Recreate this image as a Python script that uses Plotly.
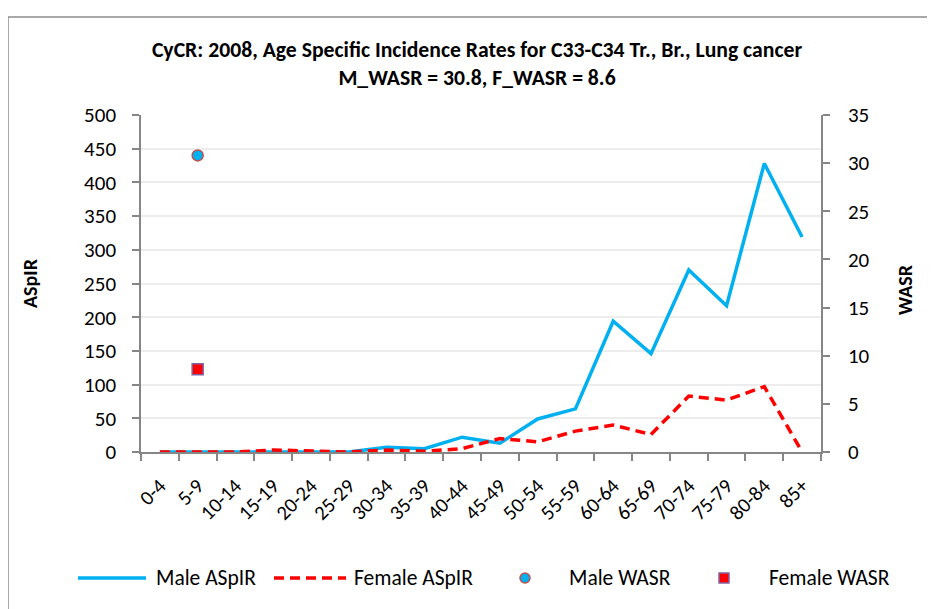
import plotly.graph_objects as go

age_groups = ["0-4", "5-9", "10-14", "15-19", "20-24", "25-29", "30-34", "35-39", "40-44",
              "45-49", "50-54", "55-59", "60-64", "65-69", "70-74", "75-79", "80-84", "85+"]
male_aspir = [0, 0, 0, 1, 0, 0, 7, 5, 22, 13, 49, 64, 194, 146, 270, 217, 428, 319]
female_aspir = [0, 0, 0, 3, 1, 0, 3, 1, 5, 20, 15, 31, 40, 26, 83, 77, 97, 0]
wasr_category = ["5-9"]
male_wasr = [30.8]
female_wasr = [8.6]
series_names = ["Male ASpIR", "Female ASpIR", "Male WASR", "Female WASR"]

W, H = 935, 609
OFF = 8  # page body margin offset in the browser
# plot area in screen pixels: x 141..821, y 115..452
L = 141 - OFF
T = 115 - OFF
R = W - (821 - OFF)
B = H - (452 - OFF)
PW, PH = W - L - R, H - T - B

def px_x(sx):
    return (sx - OFF - L) / PW

def px_y(sy):
    return (H - B - (sy - OFF)) / PH

FONT = "Carlito, Calibri, sans-serif"
MALE_C = "#00B0F0"
FEMALE_C = "#FF0000"
axis_col = "#868686"

fig = go.Figure()
fig.add_trace(go.Scatter(x=age_groups, y=male_aspir, name=series_names[0], mode="lines",
                         line=dict(color=MALE_C, width=3.5)))
fig.add_trace(go.Scatter(x=age_groups, y=female_aspir, name=series_names[1], mode="lines",
                         line=dict(color=FEMALE_C, width=3.5, dash="10px,6px")))
fig.add_trace(go.Scatter(x=wasr_category, y=male_wasr, name=series_names[2], mode="markers", yaxis="y2",
                         marker=dict(symbol="circle", size=11, color=MALE_C,
                                     line=dict(color="#C0504D", width=1.5))))
fig.add_trace(go.Scatter(x=wasr_category, y=female_wasr, name=series_names[3], mode="markers", yaxis="y2",
                         marker=dict(symbol="square", size=11, color=FEMALE_C,
                                     line=dict(color="#8064A2", width=1.5))))

# manual legend (Excel style, long line samples)
leg_y = 578
shapes = [
    dict(type="line", xref="paper", yref="paper", x0=px_x(4), x1=px_x(W + 20), y0=px_y(17), y1=px_y(17),
         line=dict(color="#8C8C8C", width=1.5)),
    dict(type="line", xref="paper", yref="paper", x0=px_x(8), x1=px_x(8), y0=px_y(17), y1=px_y(H + 20),
         line=dict(color="#8C8C8C", width=1.5)),
    dict(type="line", xref="paper", yref="paper", x0=px_x(78), x1=px_x(146), y0=px_y(leg_y), y1=px_y(leg_y),
         line=dict(color=MALE_C, width=3.5)),
    dict(type="line", xref="paper", yref="paper", x0=px_x(274), x1=px_x(346), y0=px_y(leg_y), y1=px_y(leg_y),
         line=dict(color=FEMALE_C, width=3.5, dash="10px,6px")),
    dict(type="circle", xref="paper", yref="paper", x0=px_x(520), x1=px_x(530), y0=px_y(leg_y - 5), y1=px_y(leg_y + 5),
         fillcolor=MALE_C, line=dict(color="#C0504D", width=1.5)),
    dict(type="rect", xref="paper", yref="paper", x0=px_x(719), x1=px_x(729), y0=px_y(leg_y - 5), y1=px_y(leg_y + 5),
         fillcolor=FEMALE_C, line=dict(color="#8064A2", width=1.5)),
]
legend_text_x = [154, 352, 567, 767]
annotations = [
    dict(text=name, x=px_x(tx), y=px_y(leg_y), xref="paper", yref="paper", xanchor="left", yanchor="middle",
         showarrow=False, font=dict(family=FONT, size=21.5, color="black"))
    for name, tx in zip(series_names, legend_text_x)
]
annotations += [
    dict(text="<b>ASpIR</b>", x=px_x(30), y=px_y(283), xref="paper", yref="paper", textangle=-90,
         xanchor="center", yanchor="middle", showarrow=False, font=dict(family=FONT, size=20, color="black")),
    dict(text="<b>WASR</b>", x=px_x(905), y=px_y(290), xref="paper", yref="paper", textangle=-90,
         xanchor="center", yanchor="middle", showarrow=False, font=dict(family=FONT, size=20, color="black")),
]

fig.update_layout(
    width=W, height=H,
    margin=dict(l=L, r=R, t=T, b=B, autoexpand=False),
    paper_bgcolor="white", plot_bgcolor="white",
    showlegend=False,
    title=dict(text="<b>CyCR: 2008, Age Specific Incidence Rates for C33-C34 Tr., Br., Lung cancer<br>M_WASR = 30.8, F_WASR = 8.6</b>",
               x=px_x(477), xanchor="center", xref="paper", y=1 - (56.5 - OFF) / H, yanchor="middle", yref="container",
               font=dict(family=FONT, size=21.7, color="black")),
    xaxis=dict(type="category", categoryorder="array", categoryarray=age_groups,
               range=[-0.5, len(age_groups) - 0.5], automargin=False,
               tickangle=-45, tickson="boundaries", ticks="outside", ticklen=7, tickcolor=axis_col, tickwidth=1.5,
               ticklabelstandoff=12, ticklabelshift=0,
               showline=True, linecolor=axis_col, linewidth=1.5, showgrid=False,
               tickfont=dict(family=FONT, size=20.5, color="black")),
    yaxis=dict(range=[0, 500], dtick=50, ticks="outside", ticklen=7, tickcolor=axis_col, tickwidth=1.5,
               showline=True, linecolor=axis_col, linewidth=1.5, automargin=False,
               showgrid=True, gridcolor="#EDEDED", gridwidth=1.5, zeroline=False,
               ticklabelstandoff=12,
               tickfont=dict(family=FONT, size=21, color="black")),
    yaxis2=dict(range=[0, 35], dtick=5, overlaying="y", side="right", ticks="outside", ticklen=7,
                tickcolor=axis_col, tickwidth=1.5, showline=True, linecolor=axis_col, linewidth=1.5,
                showgrid=False, zeroline=False, automargin=False, ticklabelstandoff=14,
                tickfont=dict(family=FONT, size=21, color="black")),
    shapes=shapes,
    annotations=annotations,
)

fig.write_html("out.html")
